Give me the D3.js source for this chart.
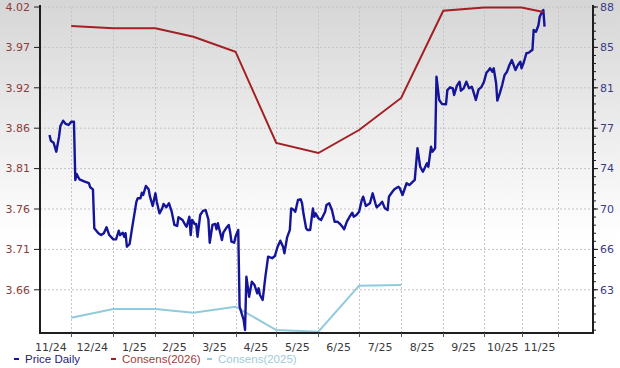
<!DOCTYPE html>
<html><head><meta charset="utf-8">
<script src="https://cdn.jsdelivr.net/npm/d3@7"></script>
<style>html,body{margin:0;padding:0;background:#fff;} svg{display:block;}</style>
</head><body>
<svg id="chart" width="620" height="368"></svg>
<script>
// ---------- DATA ----------
const monthStarts = ["2024-12-01","2025-01-01","2025-02-01","2025-03-01","2025-04-01","2025-05-01","2025-06-01","2025-07-01","2025-08-01","2025-09-01","2025-10-01","2025-11-01","2025-12-01"];
const monthLabels = ["11/24","12/24","1/25","2/25","3/25","4/25","5/25","6/25","7/25","8/25","9/25","10/25","11/25"];
const monthLabelStarts = ["2024-11-01","2024-12-01","2025-01-01","2025-02-01","2025-03-01","2025-04-01","2025-05-01","2025-06-01","2025-07-01","2025-08-01","2025-09-01","2025-10-01","2025-11-01"];
const leftTickLabels = ["4.02","3.97","3.92","3.86","3.81","3.76","3.71","3.66"];
const rightTickLabels = ["88","85","81","77","74","70","66","63"];

const consensDates = ["2024-12-01","2025-01-01","2025-02-01","2025-03-01","2025-04-01","2025-05-01","2025-06-01","2025-07-01","2025-08-01","2025-09-01","2025-10-01","2025-11-01","2025-11-19"];
const consens2026 = [3.9958,3.9929,3.9929,3.9822,3.9631,3.8469,3.8341,3.8634,3.9042,4.0153,4.0194,4.0194,4.0136];
const consens2025 = [3.6245,3.6356,3.6356,3.6309,3.6385,3.6088,3.6067,3.6652,3.6661];

const priceDaily = [
["2024-11-15",76.69],["2024-11-16",76.18],["2024-11-18",76.0],["2024-11-20",75.21],["2024-11-22",76.53],["2024-11-23",77.48],["2024-11-25",77.95],["2024-11-27",77.66],["2024-11-29",77.57],["2024-12-01",77.86],["2024-12-03",77.86],
["2024-12-04",72.71],["2024-12-05",73.24],["2024-12-07",72.77],["2024-12-11",72.56],["2024-12-14",72.42],["2024-12-15",72.06],["2024-12-17",71.88],["2024-12-18",68.44],["2024-12-21",68.0],["2024-12-23",67.84],["2024-12-25",68.0],["2024-12-27",68.53],["2024-12-29",67.84],
["2025-01-01",67.46],["2025-01-03",67.46],["2025-01-05",68.22],["2025-01-06",67.84],["2025-01-08",68.05],["2025-01-09",67.69],["2025-01-10",68.0],["2025-01-11",66.81],["2025-01-13",67.05],["2025-01-15",68.58],["2025-01-18",70.79],["2025-01-19",71.09],["2025-01-21",71.09],["2025-01-22",71.58],["2025-01-23",71.38],["2025-01-25",72.18],["2025-01-27",71.88],["2025-01-28",71.23],["2025-01-30",70.41],
["2025-02-01",71.53],["2025-02-02",70.79],["2025-02-04",69.76],["2025-02-06",70.2],["2025-02-07",70.59],["2025-02-09",70.29],["2025-02-11",70.65],["2025-02-13",69.9],["2025-02-15",68.73],["2025-02-17",68.64],["2025-02-18",69.41],["2025-02-21",69.17],["2025-02-23",68.73],["2025-02-24",68.58],["2025-02-26",69.46],["2025-02-27",67.84],["2025-02-28",69.17],
["2025-03-02",68.82],["2025-03-03",68.82],["2025-03-04",67.69],["2025-03-06",69.61],["2025-03-08",69.97],["2025-03-10",70.05],["2025-03-12",69.23],["2025-03-13",67.16],["2025-03-15",68.73],["2025-03-17",68.82],["2025-03-18",68.35],["2025-03-19",68.88],["2025-03-22",67.4],["2025-03-23",68.05],["2025-03-25",68.44],["2025-03-27",68.73],["2025-03-28",68.14],["2025-03-29",67.25],["2025-03-31",67.16],
["2025-04-01",67.69],["2025-04-03",68.29],["2025-04-04",61.51],["2025-04-07",60.33],["2025-04-08",59.45],["2025-04-09",64.16],["2025-04-11",62.39],["2025-04-13",63.72],["2025-04-15",63.42],["2025-04-17",62.69],["2025-04-18",63.13],["2025-04-19",62.54],["2025-04-21",62.1],["2025-04-23",64.16],["2025-04-25",65.93],["2025-04-28",65.79],["2025-04-30",65.99],
["2025-05-02",66.81],["2025-05-04",67.34],["2025-05-06",66.81],["2025-05-07",66.23],["2025-05-09",67.64],["2025-05-11",68.29],["2025-05-12",70.2],["2025-05-14",70.05],["2025-05-15",69.9],["2025-05-17",70.94],["2025-05-19",71.0],["2025-05-20",70.65],["2025-05-21",69.76],["2025-05-23",68.44],["2025-05-24",68.29],["2025-05-26",68.29],["2025-05-28",70.2],["2025-05-29",69.46],["2025-05-30",69.76],
["2025-06-01",69.32],["2025-06-03",69.17],["2025-06-06",69.9],["2025-06-07",70.5],["2025-06-09",70.65],["2025-06-11",70.05],["2025-06-13",69.02],["2025-06-15",69.02],["2025-06-17",68.82],["2025-06-19",68.53],["2025-06-20",68.35],["2025-06-22",69.02],["2025-06-24",69.46],["2025-06-26",69.82],["2025-06-27",69.46],["2025-06-29",69.61],
["2025-07-01",69.9],["2025-07-03",70.94],["2025-07-04",71.23],["2025-07-06",70.41],["2025-07-09",70.65],["2025-07-11",71.53],["2025-07-13",70.65],["2025-07-14",70.29],["2025-07-16",70.5],["2025-07-18",70.79],["2025-07-20",70.2],["2025-07-22",70.05],["2025-07-23",71.23],["2025-07-25",71.58],["2025-07-27",71.88],["2025-07-30",72.11],["2025-07-31",71.97],
["2025-08-02",71.38],["2025-08-05",72.42],["2025-08-07",72.26],["2025-08-11",72.71],["2025-08-13",75.51],["2025-08-15",73.88],["2025-08-17",73.44],["2025-08-20",74.18],["2025-08-21",73.88],["2025-08-23",75.65],["2025-08-24",75.21],["2025-08-26",75.51],["2025-08-27",81.84],["2025-08-29",79.78],["2025-08-31",79.43],
["2025-09-03",79.4],["2025-09-04",80.66],["2025-09-06",80.9],["2025-09-08",80.81],["2025-09-09",80.22],["2025-09-11",81.02],["2025-09-13",81.4],["2025-09-14",80.6],["2025-09-16",80.81],["2025-09-18",81.4],["2025-09-20",80.81],["2025-09-22",80.95],["2025-09-23",80.6],["2025-09-25",79.78],["2025-09-27",80.72],["2025-09-29",80.9],
["2025-10-01",81.4],["2025-10-03",82.19],["2025-10-05",82.43],["2025-10-06",82.58],["2025-10-08",82.28],["2025-10-09",82.58],["2025-10-11",81.26],["2025-10-12",79.72],["2025-10-14",80.37],["2025-10-16",81.1],["2025-10-18",81.99],["2025-10-20",82.28],["2025-10-22",82.87],["2025-10-24",83.31],["2025-10-26",82.72],["2025-10-27",82.43],["2025-10-29",82.87],["2025-10-31",83.16],
["2025-11-01",82.58],["2025-11-03",83.16],["2025-11-05",83.91],["2025-11-07",83.96],["2025-11-09",84.14],["2025-11-10",84.2],["2025-11-11",85.97],["2025-11-13",85.82],["2025-11-15",86.41],["2025-11-16",87.14],["2025-11-18",87.58],["2025-11-19",87.73],["2025-11-20",86.26]
];

const legendItems = ["Price Daily","Consens(2026)","Consens(2025)"];
const colors = {price:"#15159a", c26:"#a31f24", c25:"#91cadc"};

// ---------- CHART ----------
const parse = d3.timeParse("%Y-%m-%d");
const svg = d3.select("#chart");
const L = 40, R = 593, T = 7, B = 333;

const x = d3.scaleTime()
  .domain([parse("2024-11-08"), parse("2025-10-01"), parse("2025-12-30")])
  .range([L, 484, R]);
const yL = d3.scaleLinear().domain([3.605, 4.02]).range([B, T]);
const yR = d3.scaleLinear().domain([59.18, 88]).range([B, T]);

// background gradient
const defs = svg.append("defs");
const g = defs.append("linearGradient").attr("id","bg").attr("x1",0).attr("y1",0).attr("x2",0).attr("y2",1);
g.append("stop").attr("offset","0%").attr("stop-color","#d6d6d6");
g.append("stop").attr("offset","30%").attr("stop-color","#e9e9e9");
g.append("stop").attr("offset","65%").attr("stop-color","#ffffff");
g.append("stop").attr("offset","100%").attr("stop-color","#ffffff");
svg.append("rect").attr("width",620).attr("height",368).attr("fill","url(#bg)");

const leftVals = leftTickLabels.map((s,i) => 4.02 - i*(0.36/7));
const rightVals = rightTickLabels.map((s,i) => 88 - i*(25/7));

// grid
const grid = svg.append("g");
grid.selectAll("line.h").data(leftVals).join("line")
  .attr("x1",L).attr("x2",R).attr("y1",d=>yL(d)).attr("y2",d=>yL(d))
  .attr("stroke","#c4c4c4").attr("stroke-width",1).attr("stroke-dasharray","2,2");
grid.selectAll("line.v").data(monthStarts).join("line")
  .attr("x1",d=>Math.round(x(parse(d)))+0.5).attr("x2",d=>Math.round(x(parse(d)))+0.5).attr("y1",T).attr("y2",B)
  .attr("stroke","#c4c4c4").attr("stroke-width",1).attr("stroke-dasharray","2,2");

// lines
const lineL = d3.line().x(d=>x(d[0])).y(d=>yL(d[1]));
const lineR = d3.line().x(d=>x(d[0])).y(d=>yR(d[1]));

svg.append("path").datum(consens2025.map((v,i)=>[parse(consensDates[i]), v]))
  .attr("d",lineL).attr("fill","none").attr("stroke",colors.c25).attr("stroke-width",2);
svg.append("path").datum(priceDaily.map(d=>[parse(d[0]), d[1]]))
  .attr("d",lineR).attr("fill","none").attr("stroke",colors.price).attr("stroke-width",2.4).attr("stroke-linejoin","round");
svg.append("path").datum(consens2026.map((v,i)=>[parse(consensDates[i]), v]))
  .attr("d",lineL).attr("fill","none").attr("stroke",colors.c26).attr("stroke-width",2);

// axes
const axisColor = "#1e1e1e";
const font = "'DejaVu Sans', Verdana, sans-serif";
// left
const gl = svg.append("g");
gl.append("line").attr("x1",L).attr("x2",L).attr("y1",T-2).attr("y2",B+1).attr("stroke",axisColor).attr("stroke-width",2);
gl.selectAll("line.t").data(leftVals).join("line").attr("class","t")
  .attr("x1",L-6).attr("x2",L).attr("y1",d=>yL(d)).attr("y2",d=>yL(d)).attr("stroke",axisColor).attr("stroke-width",1);
gl.selectAll("text").data(leftTickLabels).join("text")
  .attr("x",L-10).attr("y",(d,i)=>yL(leftVals[i])).attr("dy","0.35em").attr("text-anchor","end")
  .attr("font-family",font).attr("font-size",11).attr("fill","#8e3b3b").text(d=>d);
// right
const gr = svg.append("g");
gr.append("line").attr("x1",R).attr("x2",R).attr("y1",T-2).attr("y2",B+1).attr("stroke",axisColor).attr("stroke-width",2);
const minorVals = d3.range(0, 41).map(k => 88 - k*(25/35)).filter(v => v > 59.3);
gr.selectAll("line.m").data(minorVals).join("line").attr("class","m")
  .attr("x1",R).attr("x2",R+3).attr("y1",d=>yR(d)).attr("y2",d=>yR(d)).attr("stroke",axisColor).attr("stroke-width",1);
gr.selectAll("line.t").data(rightVals).join("line").attr("class","t")
  .attr("x1",R).attr("x2",R+5).attr("y1",d=>yR(d)).attr("y2",d=>yR(d)).attr("stroke",axisColor).attr("stroke-width",1);
gr.selectAll("text").data(rightTickLabels).join("text")
  .attr("x",R+7).attr("y",(d,i)=>yR(rightVals[i])).attr("dy","0.35em").attr("text-anchor","start")
  .attr("font-family",font).attr("font-size",11).attr("fill","#3b3b8a").text(d=>d);
// bottom
const gb = svg.append("g");
gb.append("line").attr("x1",L-1).attr("x2",R+1).attr("y1",B).attr("y2",B).attr("stroke",axisColor).attr("stroke-width",2);
gb.selectAll("line.t").data(monthStarts).join("line").attr("class","t")
  .attr("x1",d=>Math.round(x(parse(d)))+0.5).attr("x2",d=>Math.round(x(parse(d)))+0.5).attr("y1",B).attr("y2",B+4)
  .attr("stroke","#555").attr("stroke-width",1);
gb.selectAll("text").data(monthLabels).join("text")
  .attr("x",(d,i)=>{
    const s = parse(monthLabelStarts[i]);
    const e = d3.timeMonth.offset(s,1);
    return (x(s)+x(e))/2;
  })
  .attr("y",B+14).attr("dy","0.35em").attr("text-anchor","middle")
  .attr("font-family",font).attr("font-size",11).attr("fill","#3a3a3a").text(d=>d);

// legend
const legColors = [colors.price, colors.c26, colors.c25];
const legTextColors = ["#22227a","#a33b3b","#9fcbd9"];
const legX = [14, 111, 207];
const lg = svg.append("g");
legendItems.forEach((t,i)=>{
  lg.append("rect").attr("x",legX[i]).attr("y",358).attr("width",5).attr("height",2).attr("fill",legColors[i]);
  lg.append("text").attr("x",legX[i]+11).attr("y",359).attr("dy","0.35em")
    .attr("font-family","'Liberation Sans', Arial, sans-serif").attr("font-size",11.5)
    .attr("fill",legTextColors[i]).text(t);
});
</script>
</body></html>
